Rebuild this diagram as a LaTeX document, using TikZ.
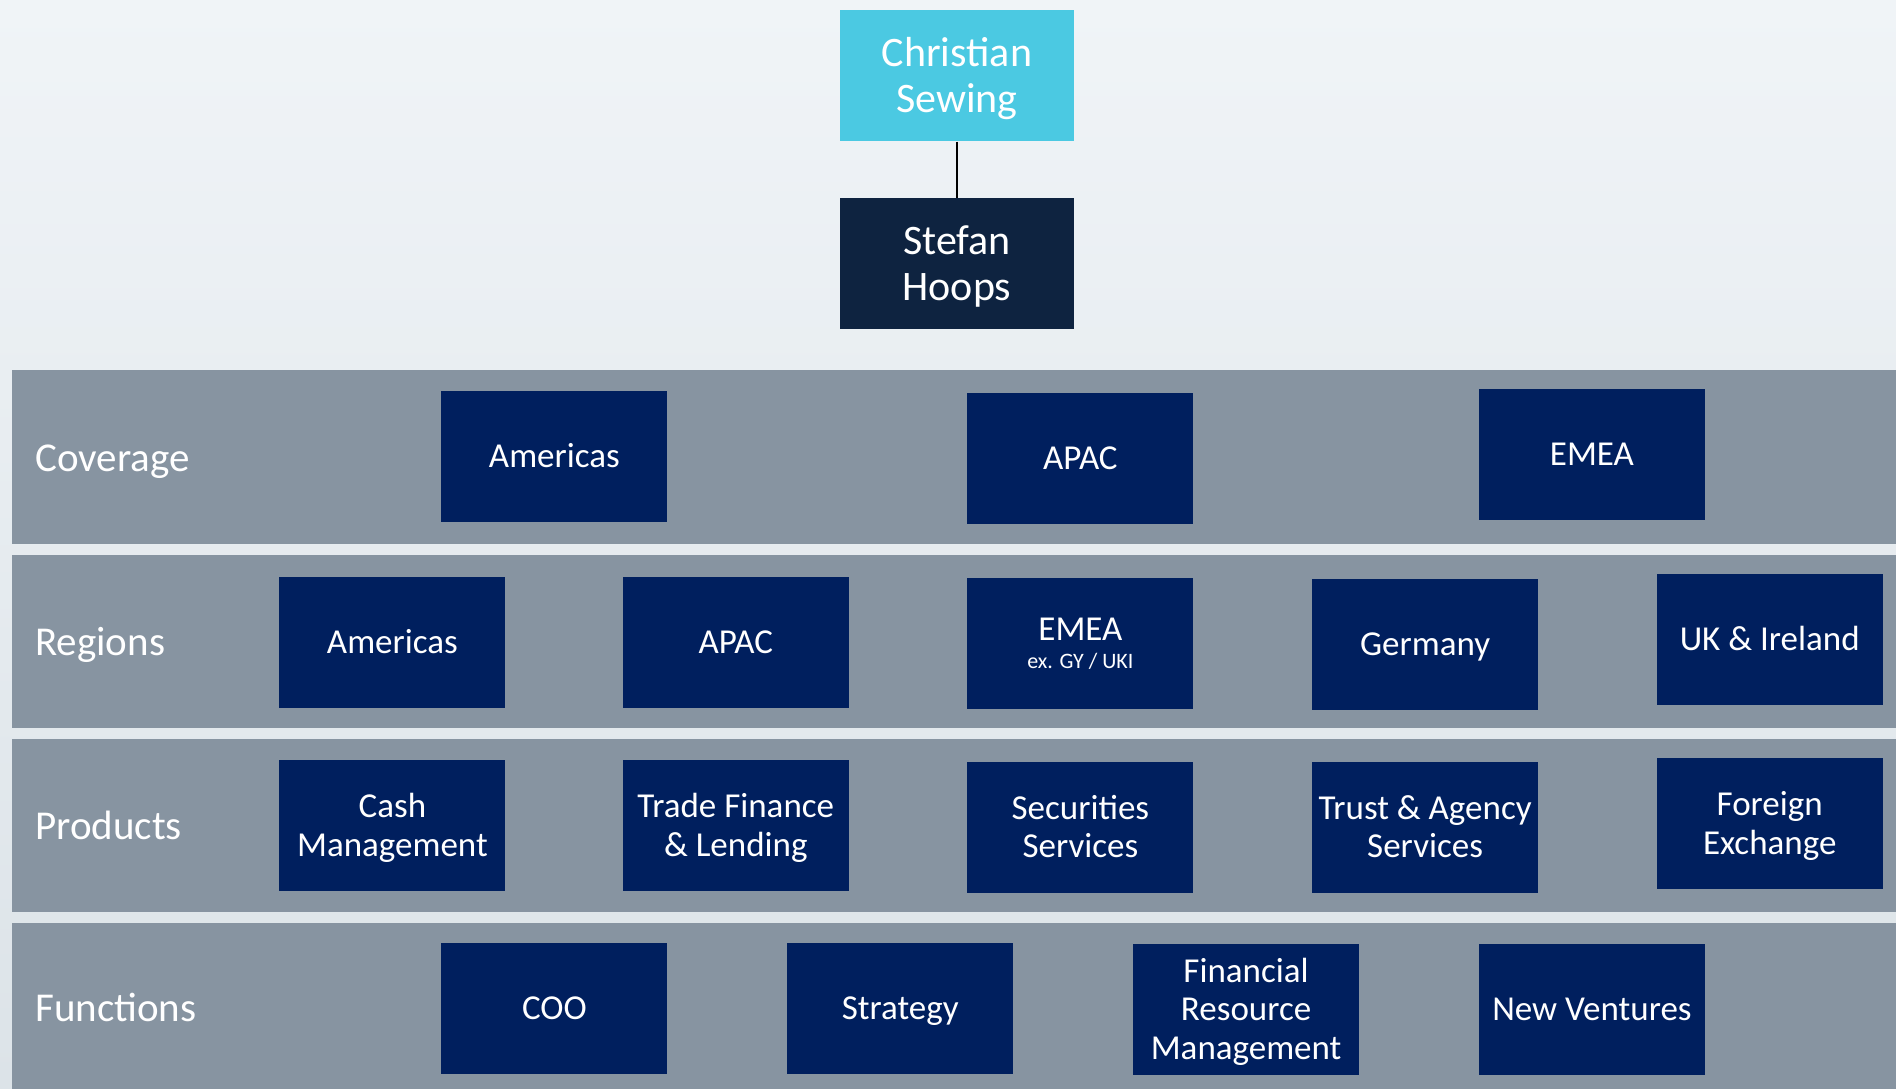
\documentclass[tikz,border=0pt]{standalone}
\usepackage{fontspec}
\setmainfont{Carlito}
\definecolor{bgtop}{HTML}{F0F4F7}
\definecolor{bgbot}{HTML}{DCE3E8}
\definecolor{band}{HTML}{8794A1}
\definecolor{navy}{HTML}{001F5E}
\definecolor{cyanbox}{HTML}{4BC9E2}
\definecolor{darkbox}{HTML}{0E2340}
\tikzset{
  unit/.style={fill=navy, text=white, minimum width=226pt, minimum height=131pt, inner sep=0pt, align=center, font=\fontsize{35}{38.5}\selectfont, text height=22.5pt, text depth=0pt},
  twolines/.style={text height=61pt},
  threelines/.style={text height=99.5pt},
  sublines/.style={text height=51pt},
  head/.style={minimum width=234pt, minimum height=131pt, inner sep=0pt, align=center, text=white, font=\fontsize{42}{46}\selectfont, text height=73pt, text depth=0pt},
  rowlabel/.style={anchor=west, text=white, inner sep=0pt, font=\fontsize{41}{45}\selectfont, text height=26.4pt, text depth=0pt},
  bandbox/.style={fill=band, draw=none},
  link/.style={line width=2pt, draw=black}
}
\begin{document}
\begin{tikzpicture}[x=1pt,y=-1pt]
\useasboundingbox (0,0) rectangle (1896,1089);
\shade[top color=bgtop, bottom color=bgbot] (0,0) rectangle (1896,1089);
% bands
\fill[bandbox] (12,370) rectangle (1896,544);
\fill[bandbox] (12,555) rectangle (1896,728);
\fill[bandbox] (12,739) rectangle (1896,912);
\fill[bandbox] (12,923) rectangle (1896,1089);
% row labels
\node[rowlabel] (lcov) at (35,458) {Coverage};
\node[rowlabel] (lreg) at (35,642) {Regions};
\node[rowlabel] (lprod) at (35,826) {Products};
\node[rowlabel] (lfun) at (35,1008) {Functions};
% heads
\node[head, fill=cyanbox] (cs) at (957,76) {Christian\\Sewing};
\node[head, fill=darkbox] (sh) at (957,263.5) {Stefan\\Hoops};
\draw[link] (cs.south) -- (sh.north);
% coverage
\node[unit] (cam) at (554.4,456.5) {Americas};
\node[unit] (capac) at (1080.4,458.3) {APAC};
\node[unit] (cemea) at (1591.9,454.7) {EMEA};
% regions
\node[unit] (ram) at (392.4,642.1) {Americas};
\node[unit] (rapac) at (735.8,642.1) {APAC};
\node[unit, sublines] (remea) at (1080.4,643.3) {EMEA\\[-10pt]{\fontsize{22}{26}\selectfont ex. GY / UKI}};
\node[unit] (rger) at (1425.1,644.5) {Germany};
\node[unit] (ruk) at (1769.7,639.7) {UK \& Ireland};
% products
\node[unit, twolines] (pcash) at (392.4,825.9) {Cash\\Management};
\node[unit, twolines] (ptrade) at (735.8,825.9) {Trade Finance\\\& Lending};
\node[unit, twolines] (psec) at (1080.4,827.1) {Securities\\Services};
\node[unit, twolines] (ptrust) at (1425.1,827.1) {Trust \& Agency\\Services};
\node[unit, twolines] (pfx) at (1769.7,823.5) {Foreign\\Exchange};
% functions
\node[unit] (fcoo) at (554.4,1008.5) {COO};
\node[unit] (fstr) at (900.3,1008.5) {Strategy};
\node[unit, threelines] (ffrm) at (1246.1,1009.7) {Financial\\Resource\\Management};
\node[unit] (fnv) at (1591.9,1009.7) {New Ventures};
\end{tikzpicture}
\end{document}
